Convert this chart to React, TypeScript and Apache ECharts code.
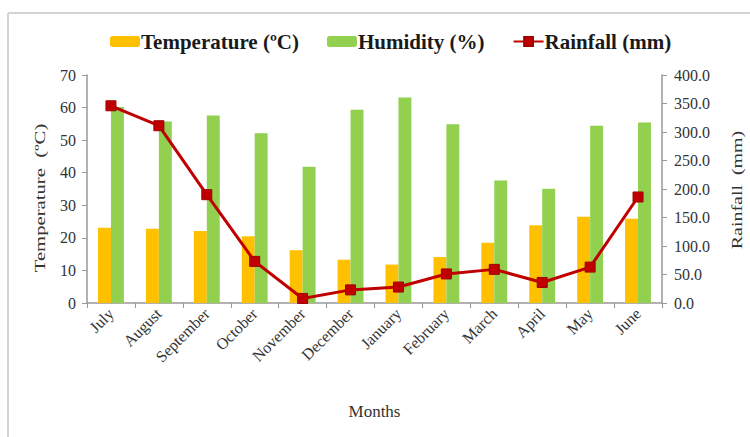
import React, { useEffect, useRef } from "react";
import * as echarts from "echarts";

const months = ["July", "August", "September", "October", "November", "December", "January", "February", "March", "April", "May", "June"];
const temperature = [23.1, 22.8, 22.1, 20.5, 16.2, 13.3, 11.8, 14.1, 18.5, 23.9, 26.5, 25.9];
const humidity = [60.2, 55.7, 57.6, 52.1, 41.8, 59.3, 63.1, 54.9, 37.6, 35.1, 54.4, 55.4];
const rainfall = [346, 311, 190, 73, 8, 23, 28, 51, 59, 36, 63, 186];

const serif = "'Liberation Serif', 'DejaVu Serif', serif";

export default function App() {
  const ref = useRef<HTMLDivElement>(null);
  useEffect(() => {
    if (!ref.current) return;
    const chart = echarts.init(ref.current, null, { renderer: "svg" });
    chart.setOption({
      animation: false,
      backgroundColor: "#ffffff",
      textStyle: { fontFamily: serif },
      graphic: [
        { type: "line", shape: { x1: 8, y1: 13, x2: 750, y2: 13 }, style: { stroke: "#d4d4d4", lineWidth: 2 }, silent: true },
        { type: "line", shape: { x1: 8, y1: 13, x2: 8, y2: 437 }, style: { stroke: "#d4d4d4", lineWidth: 2 }, silent: true },
        {
          type: "text",
          x: 40,
          y: 198,
          rotation: Math.PI / 2,
          scaleX: 1.38,
          style: { text: "Temperature  (ºC)", font: "15px " + serif, fill: "#333", align: "center", verticalAlign: "middle" },
          silent: true,
        },
        {
          type: "text",
          x: 737,
          y: 190,
          rotation: Math.PI / 2,
          scaleX: 1.33,
          style: { text: "Rainfall  (mm)", font: "15px " + serif, fill: "#333", align: "center", verticalAlign: "middle" },
          silent: true,
        },
      ],
      legend: {
        top: 26,
        left: 105,
        itemWidth: 30,
        itemHeight: 11,
        itemGap: 28,
        textStyle: { fontFamily: serif, fontWeight: "bold", fontSize: 21, color: "#1a1a1a", padding: [0, 0, 0, -4] },
        data: ["Temperature (ºC)", "Humidity (%)", "Rainfall (mm)"],
      },
      grid: { left: 87, right: 88, top: 75, bottom: 134, containLabel: false },
      xAxis: {
        type: "category",
        data: months,
        name: "Months",
        nameLocation: "middle",
        nameGap: 100,
        nameTextStyle: { fontFamily: serif, fontSize: 17, color: "#333" },
        axisLine: { lineStyle: { color: "#999", width: 1.5 } },
        axisTick: { show: true, length: 5, lineStyle: { color: "#999" } },
        axisLabel: { rotate: 45, fontFamily: serif, fontSize: 16, color: "#333", margin: 8 },
      },
      yAxis: [
        {
          type: "value",
          min: 0,
          max: 70,
          interval: 10,
          axisLine: { show: true, lineStyle: { color: "#999", width: 1.5 } },
          axisTick: { show: true, length: 5, lineStyle: { color: "#999" } },
          axisLabel: { fontFamily: serif, fontSize: 16, color: "#333", margin: 11 },
          splitLine: { show: false },
        },
        {
          type: "value",
          min: 0,
          max: 400,
          interval: 50,
          axisLine: { show: true, lineStyle: { color: "#999", width: 1.5 } },
          axisTick: { show: true, length: 5, lineStyle: { color: "#999" } },
          axisLabel: { fontFamily: serif, fontSize: 16, color: "#333", margin: 12, formatter: (v: number) => v.toFixed(1) },
          splitLine: { show: false },
        },
      ],
      series: [
        {
          name: "Temperature (ºC)",
          type: "bar",
          data: temperature,
          yAxisIndex: 0,
          barGap: "0%",
          barCategoryGap: "46%",
          itemStyle: { color: "#FFC000" },
        },
        {
          name: "Humidity (%)",
          type: "bar",
          data: humidity,
          yAxisIndex: 0,
          itemStyle: { color: "#92D050" },
        },
        {
          name: "Rainfall (mm)",
          type: "line",
          data: rainfall,
          yAxisIndex: 1,
          symbol: "rect",
          symbolSize: 10,
          lineStyle: { color: "#C00000", width: 3 },
          itemStyle: { color: "#C00000", borderColor: "#A00000", borderWidth: 1 },
        },
      ],
    });
    return () => chart.dispose();
  }, []);
  return <div ref={ref} style={{ position: "fixed", left: 0, top: 0, width: 750, height: 437 }} />;
}
